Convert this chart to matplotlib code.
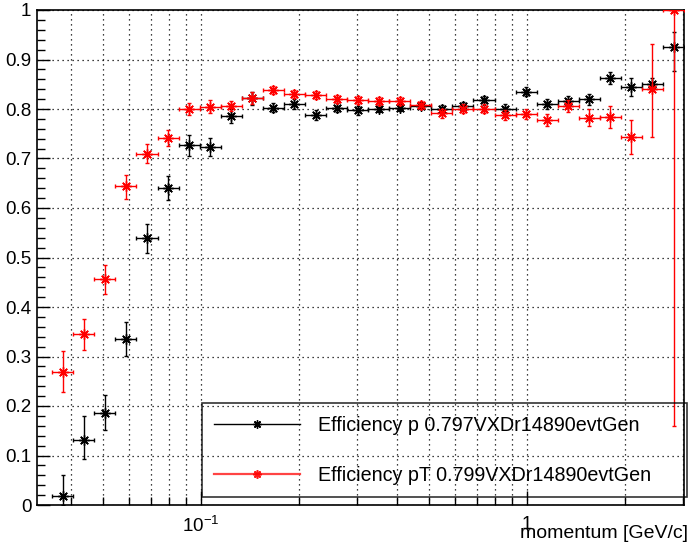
import numpy as np
import matplotlib
matplotlib.use('Agg')
from matplotlib import pyplot as plt
from matplotlib.ticker import FixedLocator, NullFormatter

plt.rcParams['font.family'] = ['Liberation Sans', 'DejaVu Sans']
plt.rcParams['mathtext.fontset'] = 'custom'
plt.rcParams['mathtext.rm'] = 'Liberation Sans'
plt.rcParams['mathtext.it'] = 'Liberation Sans'

#### momentum bins [GeV/c] (log binning, 30 bins)
p_edges = [0.03497, 0.04058, 0.04709, 0.05464, 0.06340, 0.07357, 0.08536, 0.09904,
           0.1149, 0.1334, 0.1547, 0.1796, 0.2084, 0.2418, 0.2805, 0.3255, 0.3777,
           0.4383, 0.5086, 0.5902, 0.6848, 0.7947, 0.9221, 1.070, 1.241, 1.440,
           1.671, 1.940, 2.251, 2.612, 3.031]

#### efficiency vs p (black)
eff_p = [0.019, 0.131, 0.185, 0.335, 0.540, 0.641, 0.727, 0.723, 0.786, 0.822,
         0.803, 0.811, 0.788, 0.803, 0.797, 0.801, 0.803, 0.807, 0.801, 0.806,
         0.818, 0.801, 0.835, 0.810, 0.817, 0.820, 0.862, 0.844, 0.850, 0.926]
eff_p_up = [0.042, 0.048, 0.038, 0.035, 0.028, 0.024, 0.020, 0.018, 0.015, 0.013,
            0.010, 0.010, 0.010, 0.009, 0.009, 0.008, 0.008, 0.008, 0.008, 0.008,
            0.009, 0.009, 0.009, 0.010, 0.010, 0.011, 0.012, 0.018, 0.012, 0.030]
eff_p_lo = [0.019, 0.038, 0.034, 0.034, 0.030, 0.024, 0.021, 0.018, 0.015, 0.013,
            0.010, 0.010, 0.010, 0.009, 0.009, 0.008, 0.008, 0.008, 0.008, 0.008,
            0.009, 0.009, 0.009, 0.010, 0.010, 0.011, 0.012, 0.018, 0.012, 0.049]

#### efficiency vs pT (red)
eff_pt = [0.268, 0.345, 0.456, 0.644, 0.710, 0.742, 0.800, 0.805, 0.806, 0.822,
          0.838, 0.830, 0.828, 0.821, 0.818, 0.816, 0.817, 0.808, 0.791, 0.801,
          0.801, 0.788, 0.790, 0.778, 0.806, 0.782, 0.784, 0.744, 0.840, 1.000]
eff_pt_up = [0.043, 0.031, 0.028, 0.023, 0.019, 0.016, 0.013, 0.013, 0.011, 0.012,
             0.008, 0.008, 0.008, 0.008, 0.008, 0.008, 0.008, 0.008, 0.009, 0.009,
             0.009, 0.010, 0.011, 0.012, 0.013, 0.017, 0.022, 0.034, 0.091, 0.000]
eff_pt_lo = [0.040, 0.032, 0.030, 0.025, 0.020, 0.016, 0.013, 0.013, 0.011, 0.012,
             0.008, 0.008, 0.008, 0.008, 0.008, 0.008, 0.008, 0.008, 0.009, 0.009,
             0.009, 0.010, 0.011, 0.012, 0.013, 0.017, 0.022, 0.034, 0.096, 0.840]

labels = ['Efficiency p 0.797VXDr14890evtGen', 'Efficiency pT 0.799VXDr14890evtGen']

edges = np.array(p_edges)
centers = np.sqrt(edges[:-1] * edges[1:])
xerr = [centers - edges[:-1], edges[1:] - centers]

fig = plt.figure(figsize=(6.91, 5.49), dpi=100)
ax = fig.add_axes([37/691, 44/549, 647/691, 495/549])

star = (8, 2, 0)
ax.errorbar(centers, eff_p, yerr=[eff_p_lo, eff_p_up], xerr=xerr, fmt='none',
            ecolor='black', elinewidth=1, capsize=1.6, capthick=1, zorder=3)
ax.plot(centers, eff_p, ls='none', marker=star, ms=7.5, mew=1, color='black', zorder=4)
ax.errorbar(centers, eff_pt, yerr=[eff_pt_lo, eff_pt_up], xerr=xerr, fmt='none',
            ecolor='red', elinewidth=1, capsize=1.6, capthick=1, zorder=5)
ax.plot(centers, eff_pt, ls='none', marker=star, ms=7.5, mew=1, color='red', zorder=6)

ax.set_xscale('log')
ax.set_xlim(0.0314, 3.03)
ax.set_ylim(0, 1)

ax.xaxis.set_major_locator(FixedLocator([0.1, 1]))
ax.xaxis.set_minor_locator(FixedLocator([0.04, 0.05, 0.06, 0.07, 0.08, 0.09,
                                         0.2, 0.3, 0.4, 0.5, 0.6, 0.7, 0.8, 0.9, 2, 3]))
ax.xaxis.set_minor_formatter(NullFormatter())
ax.set_xticklabels([r'$10^{-1}$', '1'])
ax.set_yticks(np.arange(0, 1.01, 0.1))
ax.set_yticklabels(['0', '0.1', '0.2', '0.3', '0.4', '0.5', '0.6', '0.7', '0.8', '0.9', '1'])
ax.yaxis.set_minor_locator(FixedLocator(np.arange(0, 1.001, 0.02)))

ax.tick_params(axis='both', which='both', direction='in', labelsize=13.5, width=1,
               top=False, right=False)
ax.tick_params(axis='y', which='major', length=9, pad=4)
ax.tick_params(axis='y', which='minor', length=5.5)
ax.tick_params(axis='x', which='major', length=10, pad=8)
ax.tick_params(axis='x', which='minor', length=6)

ax.grid(True, which='major', axis='y', color='black', ls=(0, (1, 3)), lw=0.9)
ax.grid(True, which='both', axis='x', color='black', ls=(0, (1, 3)), lw=0.9)
ax.set_axisbelow(True)
for s in ax.spines.values():
    s.set_linewidth(1.2)

ax.set_xlabel('momentum [GeV/c]', fontsize=14, ha='right', va='center')
ax.xaxis.set_label_coords(1.006, -0.058)

#### legend handles
h1, = ax.plot([], [], color='black', lw=1, marker=star, ms=6, mew=1)
h2, = ax.plot([], [], color='#ff3030', lw=1.6, alpha=0.9, marker=star, ms=6, mew=1.2,
              mec='red')
leg = ax.legend([h1, h2], labels, loc='lower left',
                bbox_to_anchor=(0.2546, 0.0156, 0.7494, 0.198), mode='expand',
                borderaxespad=0, fontsize=14.2, frameon=True, fancybox=False,
                edgecolor='black', facecolor='none', framealpha=None,
                handlelength=4.35, handletextpad=0.9, labelspacing=1.55,
                borderpad=0.64)
leg.get_frame().set_linewidth(1.2)

plt.savefig('out.png', dpi=100)
